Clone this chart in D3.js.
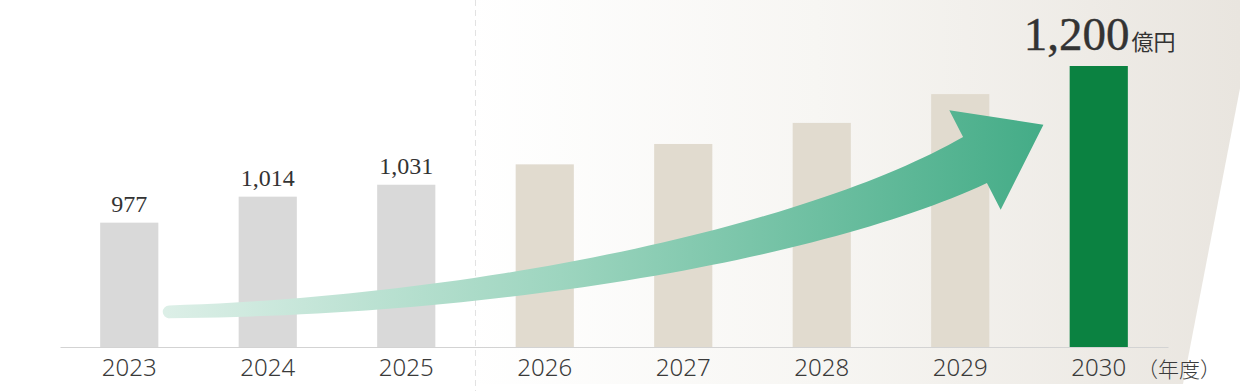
<!DOCTYPE html>
<html><head><meta charset="utf-8">
<script src="https://cdn.jsdelivr.net/npm/d3@7"></script>
<style>html,body{margin:0;padding:0;background:#fff;}svg{display:block;}</style>
</head><body>
<script>
const years = ["2023","2024","2025","2026","2027","2028","2029","2030"];
const values = [977, 1014, 1031, 1060, 1089, 1119, 1160, 1200];
const phases = ["実績","実績","実績","計画","計画","計画","計画","目標"];
const valueLabels = ["977","1,014","1,031","","","","","1,200"];
const unitLabel = "億円";
const axisUnit = "（年度）";

(function(){
const W = 1240, H = 391;
const svg = d3.select("body").append("svg").attr("width", W).attr("height", H);
const defs = svg.append("defs");

// background panel gradient
const bg = defs.append("linearGradient").attr("id","bgGrad")
  .attr("gradientUnits","userSpaceOnUse").attr("x1",470).attr("y1",0).attr("x2",1240).attr("y2",0);
bg.append("stop").attr("offset",0).attr("stop-color","#ffffff");
bg.append("stop").attr("offset",0.45).attr("stop-color","#f7f6f3");
bg.append("stop").attr("offset",1).attr("stop-color","#e9e5df");
svg.append("path").attr("d","M0,0 L1257,0 L1183,384 L0,384 Z").attr("fill","url(#bgGrad)");

const x = d3.scaleBand().domain(years).range([60, 1168]).paddingInner(0.58).paddingOuter(0.29);
const y = d3.scaleLinear().domain([800, 1200]).range([347, 66]);
const color = d3.scaleOrdinal().domain(["実績","計画","目標"]).range(["#d9d9d9","#e1dbcf","#0b8241"]);

// dashed separator between actual and plan
const sepX = (x("2025") + x.bandwidth() + x("2026")) / 2;
svg.append("line").attr("x1",sepX).attr("x2",sepX).attr("y1",0).attr("y2",H)
  .attr("stroke","#e2e2e2").attr("stroke-width",1).attr("stroke-dasharray","6,4");

// bars
svg.append("g").selectAll("rect").data(years).join("rect")
  .attr("x", d => x(d)).attr("width", x.bandwidth())
  .attr("y", (d,i) => y(values[i])).attr("height", (d,i) => y(800) - y(values[i]))
  .attr("fill", (d,i) => color(phases[i]));

// axis
const axis = d3.axisBottom(x).tickSize(0).tickPadding(12);
const gx = svg.append("g").attr("transform","translate(0,347)").call(axis);
gx.select(".domain").attr("stroke","#d3d3d3").attr("stroke-width",1.2);
gx.selectAll("text").attr("font-family","'Noto Sans','Noto Sans CJK JP',sans-serif").attr("font-weight",300)
  .attr("font-size",24).attr("fill","#3a3a3a").attr("dy","0.72em");
svg.append("text").attr("x", 1137).attr("y", 377)
  .attr("font-family","'Noto Sans CJK JP',sans-serif").attr("font-weight",300).attr("font-size",21).attr("fill","#3a3a3a")
  .text(axisUnit);

// arrow
const ag = defs.append("linearGradient").attr("id","arrowGrad")
  .attr("gradientUnits","userSpaceOnUse").attr("x1",166).attr("y1",0).attr("x2",1043).attr("y2",0);
ag.append("stop").attr("offset",0).attr("stop-color","#dcefe7");
ag.append("stop").attr("offset",0.45).attr("stop-color","#9dd5bf");
ag.append("stop").attr("offset",1).attr("stop-color","#44ac87");

const P0=[x("2023")+x.bandwidth()/2+40, y(850)], P1=[500,305], P2=[820,240], P3=[975,160];
function bez(t){const u=1-t;return [u*u*u*P0[0]+3*u*u*t*P1[0]+3*u*t*t*P2[0]+t*t*t*P3[0],
  u*u*u*P0[1]+3*u*u*t*P1[1]+3*u*t*t*P2[1]+t*t*t*P3[1]];}
function der(t){const u=1-t;return [3*u*u*(P1[0]-P0[0])+6*u*t*(P2[0]-P1[0])+3*t*t*(P3[0]-P2[0]),
  3*u*u*(P1[1]-P0[1])+6*u*t*(P2[1]-P1[1])+3*t*t*(P3[1]-P2[1])];}
const wf = t => 13 + 39*Math.pow(t,1.2);
const N=60, upper=[], lower=[];
for(let i=0;i<=N;i++){const t=i/N,p=bez(t),d=der(t),l=Math.hypot(d[0],d[1]);
  const n=[-d[1]/l, d[0]/l], w=wf(t)/2;
  upper.push([p[0]-n[0]*w,p[1]-n[1]*w]); lower.push([p[0]+n[0]*w,p[1]+n[1]*w]);}
const dE=der(1), lE=Math.hypot(dE[0],dE[1]), ud=[dE[0]/lE,dE[1]/lE], nn=[-ud[1],ud[0]];
const hw=56, hl=77;
const barbA=[P3[0]-nn[0]*hw,P3[1]-nn[1]*hw], barbB=[P3[0]+nn[0]*hw,P3[1]+nn[1]*hw];
const tip=[P3[0]+ud[0]*hl,P3[1]+ud[1]*hl];
const r0=wf(0)/2;
let dstr="M"+lower[0].join(",")+" A"+r0+","+r0+" 0 0 1 "+upper[0].join(",");
upper.slice(1).forEach(p=>dstr+=" L"+p.join(","));
dstr+=" L"+barbA.join(",")+" L"+tip.join(",")+" L"+barbB.join(",");
lower.slice().reverse().forEach(p=>dstr+=" L"+p.join(","));
dstr+=" Z";
svg.append("path").attr("d",dstr).attr("fill","url(#arrowGrad)");

// value labels
svg.append("g").selectAll("text").data(years.filter((d,i)=>valueLabels[i] && i<years.length-1)).join("text")
  .attr("x", d => x(d)+x.bandwidth()/2)
  .attr("y", d => y(values[years.indexOf(d)]) - 11)
  .attr("text-anchor","middle").attr("font-family","'Liberation Serif','DejaVu Serif',serif")
  .attr("font-size",24).attr("fill","#333")
  .text(d => valueLabels[years.indexOf(d)]);

const last = years.length-1;
const big = svg.append("text").attr("x", x(years[last])+x.bandwidth()/2+1).attr("y", y(values[last]) - 16)
  .attr("text-anchor","middle").attr("fill","#333");
big.append("tspan").attr("font-family","'Liberation Serif','DejaVu Serif',serif").attr("font-size",47)
  .attr("stroke","#333").attr("stroke-width",0.4).text(valueLabels[last]);
big.append("tspan").attr("font-family","'Noto Sans CJK JP',sans-serif").attr("font-size",22).attr("dx",2).text(unitLabel);
})();
</script>
</body></html>
